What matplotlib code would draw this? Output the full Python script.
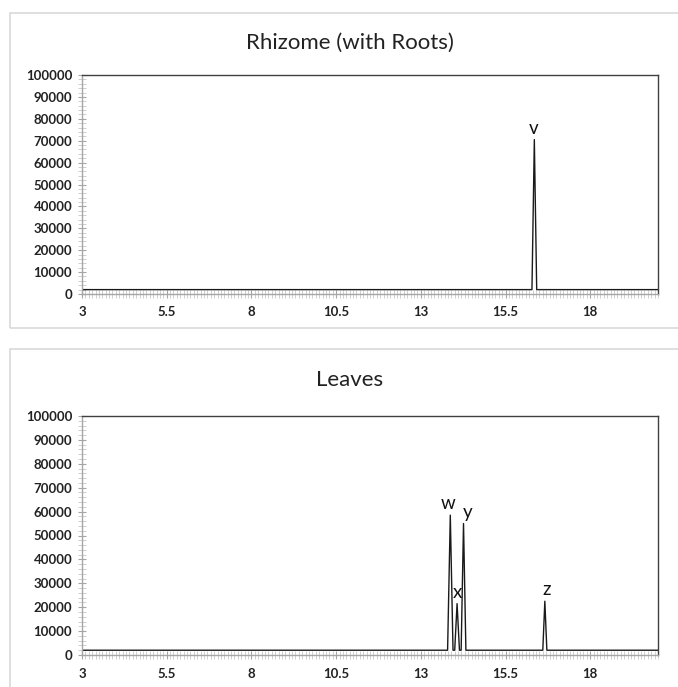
import matplotlib
matplotlib.use("Agg")
import matplotlib.pyplot as plt
from matplotlib.patches import Rectangle
from matplotlib.ticker import MultipleLocator, FixedLocator

plt.rcParams['font.family'] = ['Lato', 'DejaVu Sans']

# ---- data (retention time in min, signal) ----
x_ticks = [3, 5.5, 8, 10.5, 13, 15.5, 18]
x_tick_labels = ["3", "5.5", "8", "10.5", "13", "15.5", "18"]
y_ticks = [0, 10000, 20000, 30000, 40000, 50000, 60000, 70000, 80000, 90000, 100000]

rhizome_time = [3.0, 16.28, 16.35, 16.42, 20.0]
rhizome_signal = [2000, 2000, 70500, 2000, 2000]
rhizome_peaks = ["v"]
rhizome_peak_time = [16.35]
rhizome_peak_height = [70500]

leaves_time = [3.0, 13.79, 13.87, 13.95, 14.00, 14.07, 14.14, 14.19, 14.26, 14.33, 16.60, 16.66, 16.72, 20.0]
leaves_signal = [2000, 2000, 58500, 2000, 2000, 21500, 2000, 2000, 55000, 2000, 2000, 22500, 2000, 2000]
leaves_peaks = ["w", "x", "y", "z"]
leaves_peak_time = [13.87, 14.07, 14.26, 16.66]
leaves_peak_height = [58500, 21500, 55000, 22500]
leaves_label_dx = [-0.08, 0.0, 0.12, 0.05]

W, H = 678, 687
fig = plt.figure(figsize=(W / 100, H / 100), dpi=100)

# panel frames
for (y0, y1) in [(13, 328), (349, 700)]:
    fig.patches.append(Rectangle((10 / W, 1 - y1 / H), (700 - 10) / W, (y1 - y0) / H,
                                 transform=fig.transFigure, fill=False,
                                 edgecolor="#d9d9d9", linewidth=1.2))

fig.text(350 / W, 1 - 43 / H, "Rhizome (with Roots)", ha="center", va="center", fontsize=16, color="#222222")
fig.text(350 / W, 1 - 380 / H, "Leaves", ha="center", va="center", fontsize=16, color="#222222")


def style_axes(ax, top_px, bottom_px):
    ax.set_position([82 / W, 1 - bottom_px / H, (658 - 82) / W, (bottom_px - top_px) / H])
    ax.set_xlim(3, 20)
    ax.set_ylim(0, 100000)
    ax.xaxis.set_major_locator(FixedLocator(x_ticks))
    ax.set_xticklabels(x_tick_labels)
    ax.xaxis.set_minor_locator(MultipleLocator(0.1))
    ax.yaxis.set_major_locator(FixedLocator(y_ticks))
    ax.set_yticklabels([str(v) for v in y_ticks])
    ax.yaxis.set_minor_locator(MultipleLocator(2000))
    for s in ["left", "bottom"]:
        ax.spines[s].set_color("#a6a6a6")
        ax.spines[s].set_linewidth(1.0)
    for s in ["top", "right"]:
        ax.spines[s].set_color("#404040")
        ax.spines[s].set_linewidth(1.0)
    ax.tick_params(axis="both", which="major", direction="inout", length=6, color="#a6a6a6",
                   labelsize=9.5, pad=4, labelcolor="#222222")
    ax.tick_params(axis="both", which="minor", direction="inout", length=6, color="#c8c8c8", width=0.6)
    ax.tick_params(axis="x", which="major", pad=6)
    for lab in ax.get_xticklabels() + ax.get_yticklabels():
        lab.set_fontweight("bold")


ax1 = fig.add_axes([0, 0, 1, 1])
ax1.plot(rhizome_time, rhizome_signal, color="#1a1a1a", linewidth=1.0)
for name, t, h in zip(rhizome_peaks, rhizome_peak_time, rhizome_peak_height):
    ax1.text(t - 0.02, h + 1200, name, ha="center", va="bottom", fontsize=13.5, color="#111111")
style_axes(ax1, 75, 294)

ax2 = fig.add_axes([0, 0, 1, 1])
ax2.plot(leaves_time, leaves_signal, color="#1a1a1a", linewidth=1.0)
for name, t, h, dx in zip(leaves_peaks, leaves_peak_time, leaves_peak_height, leaves_label_dx):
    ax2.text(t + dx, h + 1200, name, ha="center", va="bottom", fontsize=13.5, color="#111111")
style_axes(ax2, 416, 655)

fig.savefig("out.png", dpi=100)
